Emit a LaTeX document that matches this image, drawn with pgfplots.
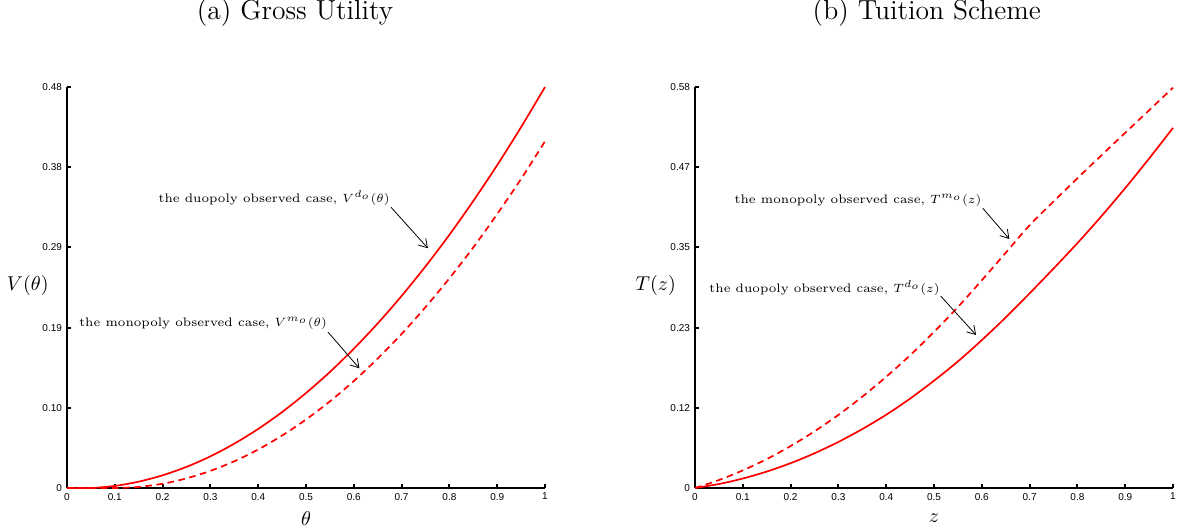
\documentclass[border=0pt]{standalone}
\usepackage{fontspec}
\usepackage{pgfplots}
\pgfplotsset{compat=1.18}
\usetikzlibrary{arrows.meta}
\newfontfamily\ticksans{Liberation Sans}

\tikzset{
  solidc/.style={red, line width=0.85pt, smooth},
  dashc/.style={red, line width=0.85pt, smooth, dash pattern=on 3.3pt off 2.3pt},
  ann/.style={font=\fontsize{6.2}{8}\selectfont, anchor=east, inner sep=0pt},
  arr/.style={-{Straight Barb[length=4pt,width=5pt]}, line width=0.4pt, black},
  ttl/.style={font=\fontsize{13.8}{16}\selectfont}
}
\pgfplotsset{mystyle/.style={
  scale only axis, width=239pt, height=200.5pt,
  xmin=0, xmax=1, ymin=0, clip=false,
  axis x line=bottom, axis y line=left,
  axis line style={-, line width=1.1pt, black},
  tick align=inside, major tick length=2.2pt,
  tick style={line width=1pt, black},
  /pgf/number format/assume math mode=true,
  ticklabel style={font=\fontsize{5}{6}\ticksans},
  xtick={0,0.1,0.2,0.3,0.4,0.5,0.6,0.7,0.8,0.9,1},
  xticklabels={0,0.1,0.2,0.3,0.4,0.5,0.6,0.7,0.8,0.9,1},
  xticklabel style={yshift=1pt},
  yticklabel style={xshift=1pt},
  label style={font=\fontsize{10}{12}\selectfont},
  xlabel style={at={(axis description cs:0.5,-0.075)}, anchor=center},
  ylabel style={at={(axis description cs:-0.082,0.506)}, anchor=center, rotate=-90}
}}

\begin{document}
\begin{tikzpicture}
\useasboundingbox (-33.5pt,-21.5pt) rectangle (558pt,244pt);

\begin{axis}[mystyle, ymax=0.48,
  ytick={0,0.096,0.192,0.288,0.384,0.48},
  yticklabels={0,0.10,0.19,0.29,0.38,0.48},
  xlabel={$\theta$}, ylabel={$V(\theta)$}]
\addplot[solidc] coordinates {
(0,0) (0.05,0) (0.1,0.0025) (0.15,0.0076) (0.2,0.0152) (0.25,0.0253)
(0.3,0.0379) (0.35,0.0531) (0.4,0.0707) (0.45,0.0909) (0.5,0.1137) (0.55,0.1389)
(0.6,0.1667) (0.65,0.1970) (0.7,0.2299) (0.75,0.2653) (0.8,0.3031) (0.85,0.3436)
(0.9,0.3865) (0.95,0.4320) (1,0.48)};
\addplot[dashc] coordinates {
(0,0) (0.05,0) (0.1,0) (0.15,0.0013) (0.2,0.0051) (0.25,0.0115) (0.3,0.0205)
(0.35,0.032) (0.4,0.0461) (0.45,0.0628) (0.5,0.082) (0.55,0.1037) (0.6,0.128)
(0.65,0.155) (0.7,0.1844) (0.75,0.2165) (0.8,0.251) (0.85,0.288) (0.9,0.328)
(0.95,0.370) (1,0.415)};
\node[ann] at (axis cs:0.676,0.347) {the duopoly observed case, $V^{d_o}(\theta)$};
\draw[arr] (axis cs:0.678,0.336) -- (axis cs:0.755,0.287);
\node[ann] at (axis cs:0.5446,0.197) {the monopoly observed case, $V^{m_o}(\theta)$};
\draw[arr] (axis cs:0.546,0.1867) -- (axis cs:0.6116,0.1433);
\node[ttl] at (axis description cs:0.477,1.1845) {(a) Gross Utility};
\end{axis}

\begin{axis}[mystyle, at={(314pt,0pt)}, ymax=0.583,
  ytick={0,0.1166,0.2332,0.3498,0.4664,0.583},
  yticklabels={0,0.12,0.23,0.35,0.47,0.58},
  xlabel={$z$}, ylabel={$T(z)$}]
\addplot[solidc] coordinates {
(0,0) (0.05,0.0058) (0.1,0.0138) (0.15,0.0239) (0.2,0.0361) (0.25,0.0505)
(0.3,0.0670) (0.35,0.0857) (0.4,0.1065) (0.45,0.1300) (0.5,0.1560) (0.55,0.1840)
(0.6,0.2150) (0.65,0.2480) (0.7,0.2830) (0.75,0.3190) (0.8,0.3560) (0.85,0.3950)
(0.9,0.4360) (0.95,0.4790) (1,0.5236)};
\addplot[dashc] coordinates {
(0,0) (0.05,0.0115) (0.1,0.0256) (0.15,0.0420) (0.2,0.0610) (0.25,0.0824)
(0.3,0.1063) (0.35,0.1328) (0.4,0.1617) (0.45,0.1930) (0.5,0.2269) (0.55,0.2631)
(0.6,0.3020) (0.65,0.3420) (0.7,0.3820) (0.75,0.4165) (0.8,0.4503) (0.85,0.4835)
(0.9,0.5164) (0.95,0.5492) (1,0.582)};
\node[ann] at (axis cs:0.5998,0.4188) {the monopoly observed case, $T^{m_o}(z)$};
\draw[arr] (axis cs:0.602,0.4067) -- (axis cs:0.6576,0.362);
\node[ann] at (axis cs:0.5126,0.2904) {the duopoly observed case, $T^{d_o}(z)$};
\draw[arr] (axis cs:0.514,0.279) -- (axis cs:0.588,0.2225);
\node[ttl] at (axis description cs:0.485,1.1845) {(b) Tuition Scheme};
\end{axis}
\end{tikzpicture}
\end{document}
